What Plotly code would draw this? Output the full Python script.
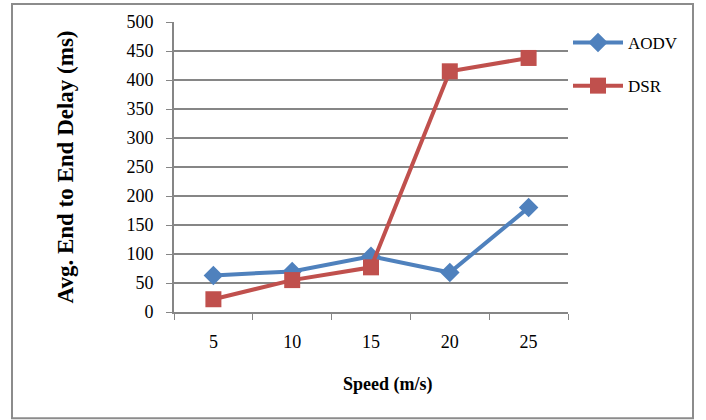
import plotly.graph_objects as go

speeds = ["5", "10", "15", "20", "25"]
aodv = [63, 70, 96, 68, 180]
dsr = [22, 55, 77, 415, 438]
y_ticks = [0, 50, 100, 150, 200, 250, 300, 350, 400, 450, 500]

W, H = 706, 420
L, R, T, B = 174, 138, 20, 108
pw, ph = W - L - R, H - T - B

FONT = "Liberation Serif"

fig = go.Figure()
fig.add_trace(go.Scatter(x=speeds, y=aodv, name="AODV", mode="lines+markers",
                         line=dict(color="#4F81BD", width=4),
                         marker=dict(symbol="diamond", size=15, color="#4F81BD"),
                         legendgroup="a"))
fig.add_trace(go.Scatter(x=speeds, y=dsr, name="DSR", mode="lines+markers",
                         line=dict(color="#C0504D", width=4),
                         marker=dict(symbol="square", size=16, color="#C0504D"),
                         legendgroup="b"))

def px_x(x):
    return (x - L) / pw

def px_y(y):
    return (H - B - y) / ph

fig.add_shape(type="rect", xref="paper", yref="paper",
              x0=px_x(12), x1=px_x(693), y0=px_y(419), y1=px_y(2),
              line=dict(color="#8C8C8C", width=2), layer="below")

# x-axis title, centred slightly right of the plot centre as in the reference
fig.add_annotation(text="<b>Speed (m/s)</b>", xref="paper", yref="paper",
                   x=px_x(388), y=px_y(385), xanchor="center", yanchor="middle",
                   showarrow=False, font=dict(family=FONT, size=18, color="black"))

fig.update_layout(
    width=W, height=H,
    margin=dict(l=L, r=R, t=T, b=B),
    paper_bgcolor="white", plot_bgcolor="white",
    font=dict(family=FONT, size=17, color="black"),
    showlegend=True,
    legend=dict(x=1.0, y=px_y(23), xanchor="left", yanchor="top",
                xref="paper", yref="paper",
                font=dict(family=FONT, size=17), tracegroupgap=18,
                bgcolor="rgba(0,0,0,0)", itemwidth=50),
    xaxis=dict(type="category", range=[-0.5, 4.5], tickson="boundaries",
               ticks="outside", ticklen=6, ticklabelstandoff=12,
               tickfont=dict(family=FONT, size=18),
               tickcolor="#868686", showline=True, linecolor="#868686", linewidth=2,
               showgrid=False, zeroline=False),
    yaxis=dict(range=[0, 500], tickvals=y_ticks, ticks="outside", ticklen=6,
               ticklabelstandoff=9, tickfont=dict(family=FONT, size=18),
               tickcolor="#868686", showline=True, linecolor="#868686", linewidth=2,
               showgrid=True, gridcolor="#868686", gridwidth=1.5, zeroline=False,
               title=dict(text="<b>Avg. End to End Delay (ms)</b>", font=dict(family=FONT, size=23), standoff=46)),
)

fig.write_html("out.html")
